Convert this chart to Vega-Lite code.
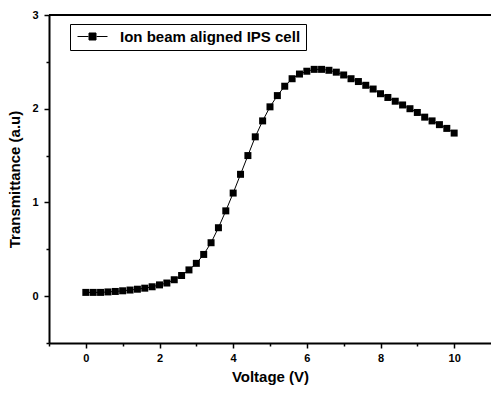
{
  "$schema": "https://vega.github.io/schema/vega-lite/v6.json",
  "width": 442,
  "height": 328,
  "autosize": {"type": "none"},
  "padding": {"left": 49, "top": 15, "right": 0, "bottom": 53},
  "background": "white",
  "config": {
    "view": {"stroke": null},
    "font": "Liberation Sans",
    "axis": {
      "grid": false,
      "domainColor": "black",
      "domainWidth": 2,
      "tickColor": "black",
      "tickWidth": 1.5,
      "labelColor": "black",
      "titleColor": "black",
      "labelFont": "Liberation Sans",
      "titleFont": "Liberation Sans",
      "labelFontWeight": "bold",
      "titleFontWeight": "bold",
      "labelFontSize": 11,
      "titleFontSize": 15
    }
  },
  "data": {
    "values": [
      {"V": 0.0, "T": 0.04}, {"V": 0.2, "T": 0.04}, {"V": 0.4, "T": 0.04}, {"V": 0.6, "T": 0.045},
      {"V": 0.8, "T": 0.05}, {"V": 1.0, "T": 0.057}, {"V": 1.2, "T": 0.065}, {"V": 1.4, "T": 0.074},
      {"V": 1.6, "T": 0.085}, {"V": 1.8, "T": 0.1}, {"V": 2.0, "T": 0.12}, {"V": 2.2, "T": 0.14},
      {"V": 2.4, "T": 0.175}, {"V": 2.6, "T": 0.22}, {"V": 2.8, "T": 0.28}, {"V": 3.0, "T": 0.35},
      {"V": 3.2, "T": 0.445}, {"V": 3.4, "T": 0.57}, {"V": 3.6, "T": 0.73}, {"V": 3.8, "T": 0.91},
      {"V": 4.0, "T": 1.1}, {"V": 4.2, "T": 1.3}, {"V": 4.4, "T": 1.5}, {"V": 4.6, "T": 1.7},
      {"V": 4.8, "T": 1.87}, {"V": 5.0, "T": 2.02}, {"V": 5.2, "T": 2.14}, {"V": 5.4, "T": 2.24},
      {"V": 5.6, "T": 2.32}, {"V": 5.8, "T": 2.37}, {"V": 6.0, "T": 2.4}, {"V": 6.2, "T": 2.42},
      {"V": 6.4, "T": 2.42}, {"V": 6.6, "T": 2.41}, {"V": 6.8, "T": 2.39}, {"V": 7.0, "T": 2.36},
      {"V": 7.2, "T": 2.32}, {"V": 7.4, "T": 2.29}, {"V": 7.6, "T": 2.25}, {"V": 7.8, "T": 2.21},
      {"V": 8.0, "T": 2.16}, {"V": 8.2, "T": 2.12}, {"V": 8.4, "T": 2.08}, {"V": 8.6, "T": 2.04},
      {"V": 8.8, "T": 2.0}, {"V": 9.0, "T": 1.96}, {"V": 9.2, "T": 1.91}, {"V": 9.4, "T": 1.87},
      {"V": 9.6, "T": 1.83}, {"V": 9.8, "T": 1.79}, {"V": 10.0, "T": 1.74}
    ]
  },
  "encoding": {
    "x": {
      "field": "V", "type": "quantitative",
      "scale": {"domain": [-1, 11], "nice": false, "zero": false},
      "axis": {
        "title": "Voltage (V)",
        "values": [-1, 0, 1, 2, 3, 4, 5, 6, 7, 8, 9, 10],
        "format": "d",
        "labelExpr": "datum.value % 2 == 0 ? datum.label : ''",
        "tickSize": {"condition": {"test": "datum.value % 2 != 0", "value": 3}, "value": 5},
        "labelPadding": 4,
        "titlePadding": 6
      }
    },
    "y": {
      "field": "T", "type": "quantitative",
      "scale": {"domain": [-0.5, 3], "nice": false, "zero": false},
      "axis": {
        "title": "Transmittance (a.u)",
        "values": [-0.5, 0, 0.5, 1, 1.5, 2, 2.5, 3],
        "format": "~g",
        "labelExpr": "datum.value % 1 == 0 ? datum.label : ''",
        "tickSize": {"condition": {"test": "datum.value % 1 != 0", "value": 3}, "value": 5},
        "labelPadding": 6,
        "titlePadding": 9
      }
    }
  },
  "layer": [
    {
      "mark": {"type": "rule", "color": "black", "strokeWidth": 2},
      "encoding": {"y": {"datum": 3}, "x": null}
    },
    {
      "mark": {"type": "line", "color": "black", "strokeWidth": 1}
    },
    {
      "mark": {"type": "point", "shape": "square", "filled": true, "size": 49, "opacity": 1},
      "encoding": {
        "color": {
          "datum": "Ion beam aligned IPS cell",
          "type": "nominal",
          "scale": {"range": ["black"]},
          "legend": {
            "title": null,
            "orient": "none",
            "legendX": 21,
            "legendY": 9,
            "padding": 5,
            "strokeColor": "black",
            "fillColor": "white",
            "symbolType": "M-1,0H1.2M1.3,-0.7H2.7V0.7H1.3ZM2.8,0H5",
            "symbolSize": 100,
            "symbolFillColor": "black",
            "symbolStrokeColor": "black",
            "symbolStrokeWidth": 1,
            "symbolOpacity": 1,
            "labelFont": "Liberation Sans",
            "labelFontSize": 15,
            "labelFontWeight": "bold",
            "labelColor": "black",
            "labelLimit": 0,
            "labelOffset": 30
          }
        }
      }
    }
  ]
}
